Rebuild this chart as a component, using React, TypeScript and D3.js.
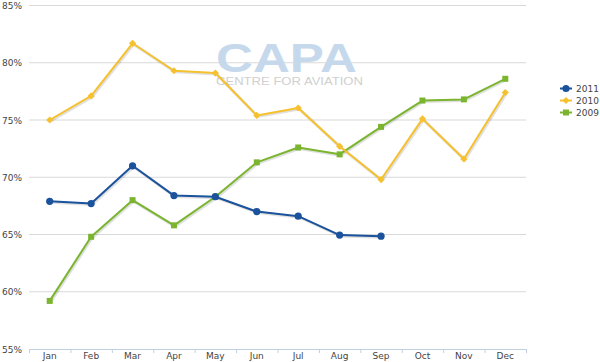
import React from 'react';
import * as d3 from 'd3';

const months = ['Jan', 'Feb', 'Mar', 'Apr', 'May', 'Jun', 'Jul', 'Aug', 'Sep', 'Oct', 'Nov', 'Dec'];
const yTicks = [55, 60, 65, 70, 75, 80, 85];

const load2011 = [67.9, 67.7, 71.0, 68.4, 68.3, 67.0, 66.6, 64.95, 64.85];
const load2010 = [75.0, 77.1, 81.7, 79.3, 79.1, 75.4, 76.05, 72.7, 69.8, 75.1, 71.6, 77.4];
const load2009 = [59.2, 64.8, 68.0, 65.8, 68.3, 71.3, 72.6, 72.0, 74.4, 76.7, 76.8, 78.6];

const seriesList = [
  { name: '2011', values: load2011, color: '#1b529c', marker: 'circle' },
  { name: '2010', values: load2010, color: '#f6c12e', marker: 'diamond' },
  { name: '2009', values: load2009, color: '#7bb52f', marker: 'square' },
];

const W = 600;
const H = 362;
const font = '"DejaVu Sans", Verdana, sans-serif';

const Marker = ({ type, x, y, color }) => {
  if (type === 'circle') return <circle cx={x} cy={y} r={3.6} fill={color} />;
  if (type === 'diamond') {
    return <path d={`M${x},${y - 3.6}L${x + 3.6},${y}L${x},${y + 3.6}L${x - 3.6},${y}Z`} fill={color} />;
  }
  return <rect x={x - 3} y={y - 3} width={6} height={6} fill={color} />;
};

const App = () => {
  const x = d3.scaleBand().domain(months).range([29, 526]);
  const y = d3.scaleLinear().domain([55, 85]).range([349, 5.5]);
  const cx = (m) => x(m) + x.bandwidth() / 2;

  const line = d3.line()
    .x((d, i) => cx(months[i]))
    .y((d) => y(d));

  return (
    <svg width={W} height={H} style={{ position: 'absolute', left: 0, top: 0, background: '#fff' }}>
      {/* gridlines */}
      {yTicks.filter((t) => t > 55).map((t) => (
        <line key={t} x1={29} x2={526} y1={y(t)} y2={y(t)} stroke="#d9d9d9" strokeWidth={1} />
      ))}
      {yTicks.map((t) => (
        <text key={t} x={22} y={y(t) + 3.5} textAnchor="end" fontFamily={font} fontSize={9} fill="#444">
          {t}%
        </text>
      ))}

      {/* watermark */}
      <text x={216} y={71.5} fontFamily='"Liberation Sans", Arial, sans-serif' fontWeight="bold" fontSize={40}
        fill="#c6d9ec" textLength={141} lengthAdjust="spacingAndGlyphs">CAPA</text>
      <text x={216} y={84.5} fontFamily='"Liberation Sans", Arial, sans-serif' fontSize={11}
        fill="#d0d0d0" textLength={147} lengthAdjust="spacingAndGlyphs">CENTRE FOR AVIATION</text>

      {/* x axis */}
      <line x1={29} x2={526} y1={349.5} y2={349.5} stroke="#c0d0e0" strokeWidth={1} />
      {months.map((m) => (
        <line key={m} x1={x(m) + 0.5} x2={x(m) + 0.5} y1={349} y2={353} stroke="#c0d0e0" />
      ))}
      <line x1={526.5} x2={526.5} y1={349} y2={353} stroke="#c0d0e0" />
      {months.map((m) => (
        <text key={m} x={cx(m)} y={359} textAnchor="middle" fontFamily={font} fontSize={9} fill="#444">
          {m}
        </text>
      ))}

      {/* series */}
      {seriesList.slice().reverse().map((s) => (
        <g key={s.name}>
          <path d={line(s.values)} fill="none" stroke="#000" strokeOpacity={0.12} strokeWidth={3}
            transform="translate(1,1)" />
          <path d={line(s.values)} fill="none" stroke={s.color} strokeWidth={2} strokeLinejoin="round" />
          {s.values.map((v, i) => (
            <Marker key={i} type={s.marker} x={cx(months[i])} y={y(v)} color={s.color} />
          ))}
        </g>
      ))}

      {/* legend */}
      {seriesList.map((s, i) => {
        const ly = 88.5 + i * 12;
        return (
          <g key={s.name}>
            <line x1={560} x2={572} y1={ly} y2={ly} stroke={s.color} strokeWidth={2} />
            <Marker type={s.marker} x={566} y={ly} color={s.color} />
            <text x={576} y={ly + 3.5} fontFamily={font} fontSize={9} fill="#444">{s.name}</text>
          </g>
        );
      })}
    </svg>
  );
};

export default App;
